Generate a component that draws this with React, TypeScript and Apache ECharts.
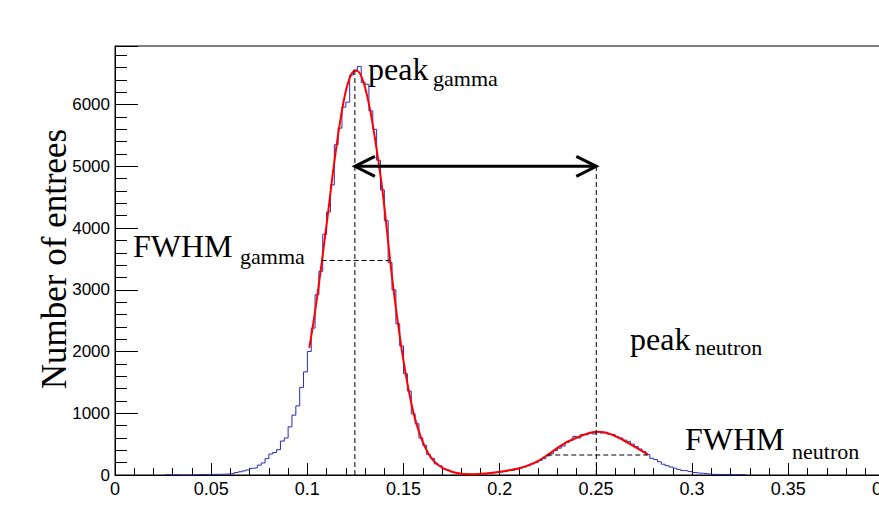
import React, { useEffect, useRef } from "react";
import * as echarts from "echarts";

// ---------------- data ----------------
// histogram: bin width 0.002, first bin starts at 0.026
const binStart = 0.026;
const binWidth = 0.002;
const binCounts = [
  6, 0, 5, 0, 0, 0, 0, 3, 8, 9,
  8, 10, 11, 10, 12, 14, 18, 24, 40, 52,
  66, 82, 108, 115, 160, 195, 265, 340, 365, 410,
  550, 600, 780, 970, 1120, 1420, 1670, 2000, 2380, 2920,
  3300, 3900, 4260, 4700, 5350, 5620, 5960, 6040, 6480, 6560,
  6620, 6360, 6330, 5900, 5600, 5100, 4620, 4120, 3440, 3000,
  2450, 2090, 1640, 1360, 990, 830, 600, 480, 330, 270,
  180, 150, 100, 82, 52, 40, 28, 20, 16, 12,
  14, 16, 20, 24, 32, 38, 45, 52, 60, 75,
  80, 98, 112, 130, 150, 180, 200, 235, 265, 310,
  345, 395, 435, 470, 525, 560, 625, 600, 655, 650,
  680, 665, 705, 680, 690, 660, 655, 620, 600, 565,
  545, 500, 460, 420, 380, 330, 270, 250, 215, 175,
  150, 130, 110, 90, 72, 68, 55, 40, 30, 28,
  22, 12, 10, 10, 8, 9, 8, 7, 8, 6,
  6,
];

// fit curve (red)
const fitX = [
  0.101, 0.103, 0.105, 0.107, 0.109, 0.111, 0.113, 0.115, 0.117, 0.119,
  0.121, 0.123, 0.125, 0.127, 0.129, 0.131, 0.133, 0.135, 0.137, 0.139,
  0.141, 0.143, 0.145, 0.147, 0.149, 0.151, 0.153, 0.155, 0.157, 0.159,
  0.161, 0.163, 0.165, 0.167, 0.169, 0.171, 0.173, 0.175, 0.177, 0.179,
  0.181, 0.183, 0.186, 0.19, 0.195, 0.2, 0.205, 0.21, 0.215, 0.22,
  0.225, 0.23, 0.235, 0.24, 0.245, 0.25, 0.255, 0.26, 0.265, 0.27,
  0.275, 0.277,
];
const fitY = [
  2060, 2440, 2870, 3330, 3820, 4310, 4830, 5300, 5720, 6080,
  6340, 6500, 6555, 6520, 6380, 6150, 5850, 5480, 5070, 4620,
  4070, 3480, 2950, 2480, 2040, 1660, 1320, 1030, 800, 615,
  465, 345, 255, 190, 142, 105, 78, 56, 38, 26,
  18, 14, 12, 20, 34, 54, 78, 110, 160, 230,
  330, 440, 535, 605, 665, 700, 690, 630, 550, 460,
  370, 330,
];

// annotation values (data coordinates)
const gammaPeak = [0.1247, 6555];
const neutronPeakX = 0.2502;
const arrowLevel = 5000;
const fwhmGamma = [0.1074, 0.1428, 3475];
const fwhmNeutron = [0.2247, 0.2768, 324];

const xTicks = { min: 0, max: 0.4, interval: 0.05 };
const yTicks = { min: 0, max: 6950, interval: 1000 };

export default function App() {
  const ref = useRef<HTMLDivElement>(null);

  useEffect(() => {
    if (!ref.current) return;
    const chart = echarts.init(ref.current, undefined, { renderer: "svg" });

    const histData: number[][] = binCounts.map((c, i) => [
      +(binStart + i * binWidth).toFixed(4),
      c,
    ]);
    histData.push([
      +(binStart + binCounts.length * binWidth).toFixed(4),
      binCounts[binCounts.length - 1],
    ]);
    const fitData = fitX.map((x, i) => [x, fitY[i]]);

    // [x1, y1, x2, y2, kind] kind 0 = dashed, 1 = double arrow
    const annot = [
      [gammaPeak[0], 0, gammaPeak[0], gammaPeak[1], 0],
      [neutronPeakX, 0, neutronPeakX, arrowLevel, 0],
      [fwhmGamma[0], fwhmGamma[2], fwhmGamma[1], fwhmGamma[2], 0],
      [fwhmNeutron[0], fwhmNeutron[2], fwhmNeutron[1], fwhmNeutron[2], 0],
      [gammaPeak[0], arrowLevel, neutronPeakX, arrowLevel, 1],
    ];

    const serif = "'Liberation Serif', 'Times New Roman', serif";
    const sans = "'Liberation Sans', Arial, Helvetica, sans-serif";
    const txt = (
      text: string,
      x: number,
      y: number,
      size: number,
      extra: any = {}
    ) => ({
      type: "text",
      x,
      y,
      ...extra,
      style: {
        text,
        fontSize: size,
        fontFamily: serif,
        fill: "#000",
        align: extra.align || "left",
        verticalAlign: "middle",
      },
    });

    chart.setOption({
      animation: false,
      backgroundColor: "#fff",
      grid: {
        left: 115,
        top: 46,
        bottom: 32,
        right: 8,
        show: true,
        borderColor: "#000",
        borderWidth: 1,
        backgroundColor: "transparent",
      },
      xAxis: {
        type: "value",
        min: xTicks.min,
        max: xTicks.max,
        interval: xTicks.interval,
        axisLine: { show: true, lineStyle: { color: "#000", width: 1 } },
        axisTick: { show: true, inside: true, length: 12, lineStyle: { color: "#000" } },
        minorTick: { show: true, splitNumber: 5, length: 7, lineStyle: { color: "#000" } },
        splitLine: { show: false },
        axisLabel: {
          color: "#000",
          fontSize: 18,
          fontFamily: sans,
          margin: 5,
        },
      },
      yAxis: {
        type: "value",
        min: yTicks.min,
        max: yTicks.max,
        interval: yTicks.interval,
        axisLine: { show: true, lineStyle: { color: "#000", width: 1 } },
        axisTick: { show: true, inside: true, length: 23, lineStyle: { color: "#000" } },
        minorTick: { show: true, splitNumber: 5, length: 12, lineStyle: { color: "#000" } },
        splitLine: { show: false },
        axisLabel: {
          color: "#000",
          fontSize: 17,
          fontFamily: sans,
          margin: 5,
          formatter: (v: number) => (v % 1000 === 0 ? String(v) : ""),
        },
      },
      series: [
        {
          type: "line",
          data: histData,
          step: "end",
          showSymbol: false,
          symbol: "none",
          lineStyle: { color: "#2a2ab4", width: 1 },
          z: 2,
        },
        {
          type: "line",
          data: fitData,
          smooth: 0.3,
          showSymbol: false,
          symbol: "none",
          lineStyle: { color: "#ff0000", width: 2 },
          z: 3,
        },
        {
          type: "custom",
          data: annot,
          encode: { x: [0, 2], y: [1, 3] },
          clip: false,
          z: 4,
          renderItem: (params: any, api: any) => {
            const p1 = api.coord([api.value(0), api.value(1)]);
            const p2 = api.coord([api.value(2), api.value(3)]);
            if (api.value(4) === 0) {
              return {
                type: "line",
                shape: { x1: p1[0], y1: p1[1], x2: p2[0], y2: p2[1] },
                style: { stroke: "#000", lineWidth: 1, lineDash: [5, 3] },
              };
            }
            const ah = 20;
            const aw = 10;
            const st = { stroke: "#000", lineWidth: 3, fill: "none" };
            return {
              type: "group",
              children: [
                { type: "line", shape: { x1: p1[0], y1: p1[1], x2: p2[0], y2: p2[1] }, style: st },
                {
                  type: "polyline",
                  shape: { points: [[p1[0] + ah, p1[1] - aw], [p1[0], p1[1]], [p1[0] + ah, p1[1] + aw]] },
                  style: st,
                },
                {
                  type: "polyline",
                  shape: { points: [[p2[0] - ah, p2[1] - aw], [p2[0], p2[1]], [p2[0] - ah, p2[1] + aw]] },
                  style: st,
                },
              ],
            };
          },
        },
      ],
      graphic: [
        txt("Number of entrees", 54, 259, 35, { rotation: Math.PI / 2, align: "center" }),
        txt("peak", 368, 69, 32),
        txt("gamma", 433, 78.5, 22),
        txt("FWHM", 133, 246, 32),
        txt("gamma", 240, 256, 22),
        txt("peak", 630, 339, 32),
        txt("neutron", 695, 347.5, 22),
        txt("FWHM", 685, 439, 32),
        txt("neutron", 792, 451.5, 22),
      ],
    });

    return () => chart.dispose();
  }, []);

  return (
    <div
      style={{
        position: "fixed",
        left: 0,
        top: 0,
        width: 879,
        height: 507,
        overflow: "hidden",
        background: "#fff",
      }}
    >
      <div ref={ref} style={{ width: 900, height: 507 }} />
    </div>
  );
}
